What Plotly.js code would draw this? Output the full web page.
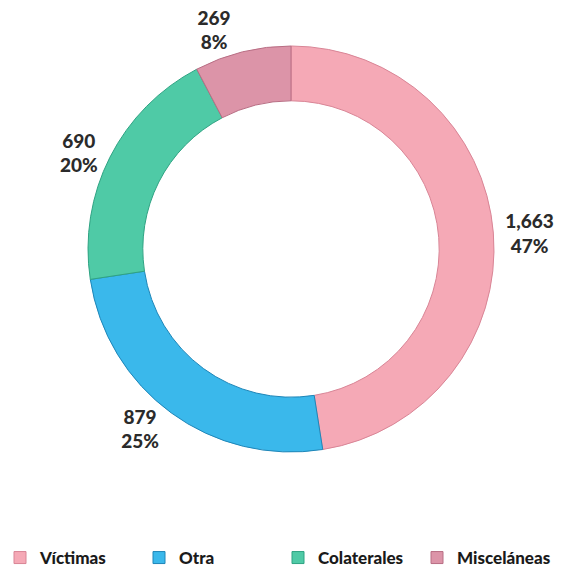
<!DOCTYPE html>
<html>
<head>
<meta charset="utf-8">
<script src="https://cdn.plot.ly/plotly-3.0.1.min.js"></script>
<style>html,body{margin:0;padding:0;background:#fff;}#chart{width:565px;height:569px;}</style>
</head>
<body>
<div id="chart"></div>
<script>
const categories = ['Víctimas', 'Otra', 'Colaterales', 'Misceláneas'];
const values = [1663, 879, 690, 269];
const percentLabels = ['47%', '25%', '20%', '8%'];
const colors = ['#F5A9B6', '#3AB8EB', '#4FCAA6', '#DC94A8'];
const edgeColors = ['#D98596', '#1F86B8', '#2FA383', '#B86E84'];

const W = 565, H = 569;
const cx = 291, cy = 249, r = 203;

const trace = {
  type: 'pie',
  labels: categories,
  values: values,
  customdata: percentLabels,
  hole: 0.73,
  sort: false,
  direction: 'clockwise',
  rotation: 0,
  marker: {colors: colors, line: {color: edgeColors, width: 1}},
  textposition: 'outside',
  texttemplate: '%{value:,}<br>%{customdata}',
  outsidetextfont: {family: 'Lato, "Noto Sans", sans-serif', size: 19, color: '#2b2b2b', weight: 900},
  domain: {x: [(cx - r) / W, (cx + r) / W], y: [(H - cy - r) / H, (H - cy + r) / H]},
  hoverinfo: 'none'
};

const layout = {
  width: W, height: H,
  margin: {l: 0, r: 0, t: 0, b: 0, autoexpand: false},
  paper_bgcolor: '#ffffff',
  showlegend: true,
  legend: {
    orientation: 'h', x: 0, xanchor: 'left', y: (H - 558) / H, yanchor: 'middle',
    entrywidth: 94, entrywidthmode: 'pixels',
    font: {family: 'Lato, "Noto Sans", sans-serif', size: 17, color: '#1a1a1a', weight: 900},
    traceorder: 'normal'
  }
};

Plotly.newPlot('chart', [trace], layout, {staticPlot: true});
</script>
</body>
</html>
